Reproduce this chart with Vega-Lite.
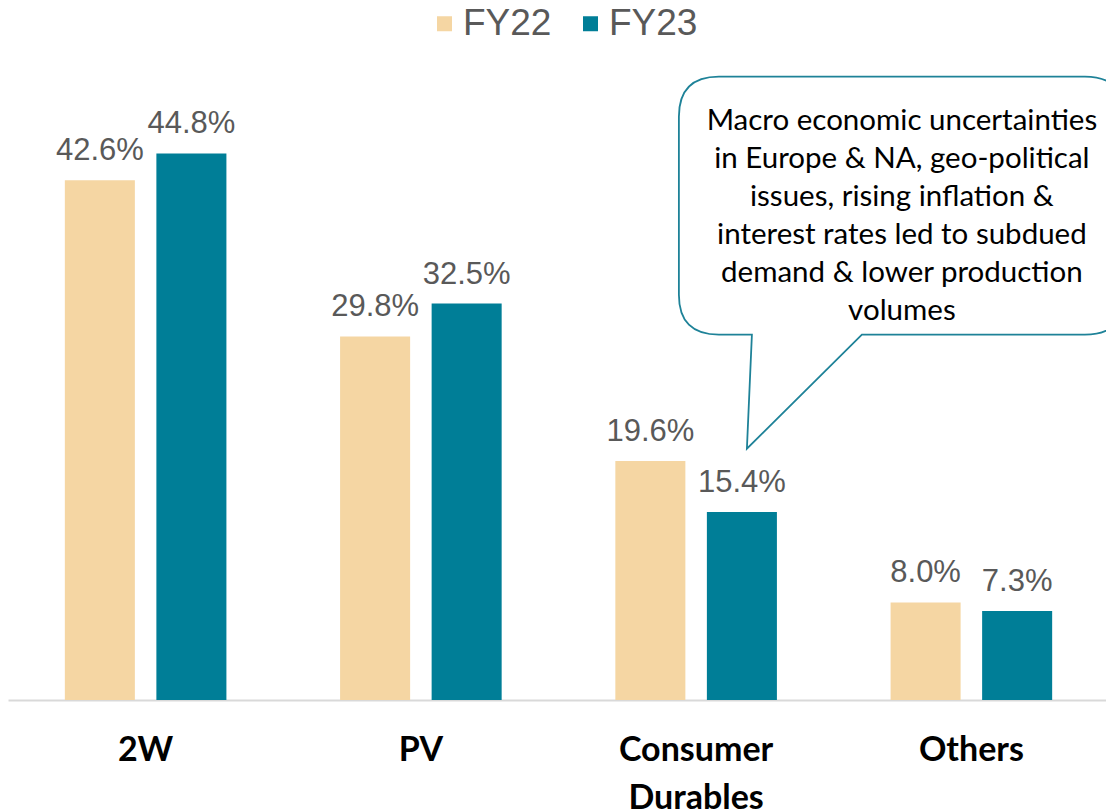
{
  "$schema": "https://vega.github.io/schema/vega-lite/v6.json",
  "width": 1098,
  "height": 610,
  "autosize": {"type": "none"},
  "padding": {"left": 8, "top": 90, "right": 0, "bottom": 110},
  "background": "white",
  "config": {"view": {"stroke": null}},
  "datasets": {
    "shares": [
      {"category": "2W", "series": "FY22", "value": 42.6},
      {"category": "2W", "series": "FY23", "value": 44.8},
      {"category": "PV", "series": "FY22", "value": 29.8},
      {"category": "PV", "series": "FY23", "value": 32.5},
      {"category": "Consumer Durables", "series": "FY22", "value": 19.6},
      {"category": "Consumer Durables", "series": "FY23", "value": 15.4},
      {"category": "Others", "series": "FY22", "value": 8.0},
      {"category": "Others", "series": "FY23", "value": 7.3}
    ],
    "callout": [
      {"category": "Consumer Durables", "series": "FY23", "value": 20.6, "note": "Macro economic uncertainties\nin Europe & NA, geo-political\nissues, rising inflation &\ninterest rates led to subdued\ndemand & lower production\nvolumes"}
    ]
  },
  "layer": [
    {
      "data": {"name": "shares"},
      "mark": {"type": "bar"},
      "encoding": {
        "x": {
          "field": "category", "type": "nominal",
          "scale": {"domain": ["2W", "PV", "Consumer Durables", "Others"], "range": [0, 1101], "paddingInner": 0.413, "paddingOuter": 0.2065},
          "axis": {
            "title": null, "ticks": false, "domainColor": "#D9D9D9", "domainWidth": 2,
            "labelAngle": 0, "labelFont": "Lato", "labelFontWeight": "bold", "labelFontSize": 34,
            "labelColor": "#000000", "labelPadding": 33, "labelLineHeight": 48, "labelBaseline": "top",
            "labelLimit": 400,
            "labelExpr": "datum.value == 'Consumer Durables' ? ['Consumer', 'Durables'] : datum.value"
          }
        },
        "xOffset": {"field": "series", "type": "nominal", "scale": {"domain": ["FY22", "FY23"], "paddingInner": 0.235, "paddingOuter": 0}},
        "y": {"field": "value", "type": "quantitative", "scale": {"domain": [0, 50], "nice": false, "zero": true}, "axis": null},
        "color": {
          "field": "series", "type": "nominal",
          "scale": {"domain": ["FY22", "FY23"], "range": ["#F5D6A3", "#007E97"]},
          "legend": {
            "orient": "none", "legendX": 418, "legendY": -85, "direction": "horizontal", "title": null,
            "symbolType": "square", "symbolSize": 225, "symbolStrokeWidth": 0,
            "labelFont": "Liberation Sans", "labelFontSize": 37, "labelColor": "#595959",
            "labelOffset": 0, "columnPadding": 20, "padding": 0, "labelLimit": 300
          }
        }
      }
    },
    {
      "data": {"name": "shares"},
      "transform": [{"calculate": "format(datum.value, '.1f') + '%'", "as": "label"}],
      "mark": {"type": "text", "font": "Liberation Sans", "fontSize": 31, "color": "#595959", "baseline": "alphabetic", "align": "center", "dy": -20},
      "encoding": {
        "x": {"field": "category", "type": "nominal"},
        "xOffset": {"field": "series", "type": "nominal"},
        "y": {"field": "value", "type": "quantitative"},
        "text": {"field": "label", "type": "nominal"}
      }
    },
    {
      "data": {"name": "callout"},
      "mark": {
        "type": "point", "size": 40000, "filled": true, "fill": "white", "stroke": "#1E8298", "strokeWidth": 1.8, "opacity": 1,
        "shape": "M 0.05 0 L 0.1 -1.14 L -0.23 -1.14 Q -0.63 -1.14 -0.63 -1.54 L -0.63 -3.32 Q -0.63 -3.72 -0.23 -3.72 L 3.43 -3.72 Q 3.83 -3.72 3.83 -3.32 L 3.83 -1.54 Q 3.83 -1.14 3.43 -1.14 L 1.2 -1.14 Z"
      },
      "encoding": {
        "x": {"field": "category", "type": "nominal"},
        "xOffset": {"field": "series", "type": "nominal"},
        "y": {"field": "value", "type": "quantitative"}
      }
    },
    {
      "data": {"name": "callout"},
      "mark": {"type": "text", "lineBreak": "\n", "font": "Lato", "fontSize": 29.5, "lineHeight": 38, "color": "#000000", "align": "center", "baseline": "top", "dx": 160, "dy": -342},
      "encoding": {
        "x": {"field": "category", "type": "nominal"},
        "xOffset": {"field": "series", "type": "nominal"},
        "y": {"field": "value", "type": "quantitative"},
        "text": {"field": "note", "type": "nominal"}
      }
    }
  ]
}
